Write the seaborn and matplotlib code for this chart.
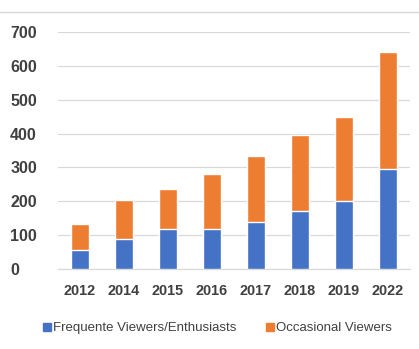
import matplotlib
matplotlib.use("Agg")
import matplotlib.pyplot as plt
from matplotlib.lines import Line2D
import seaborn as sns
import pandas as pd

years = ["2012", "2014", "2015", "2016", "2017", "2018", "2019", "2022"]
frequent = [55, 88, 118, 118, 140, 170, 200, 295]
occasional = [78, 117, 117, 162, 195, 225, 250, 347]
series_names = ["Frequente Viewers/Enthusiasts", "Occasional Viewers"]
y_ticks = [0, 100, 200, 300, 400, 500, 600, 700]

BLUE = "#4472C4"
ORANGE = "#ED7D31"
TEXT = "#404040"
GRID = "#D9D9D9"

sns.set_theme(style="white")
plt.rcParams["font.family"] = ["Liberation Sans", "DejaVu Sans"]

df = pd.DataFrame({"year": years, "frequent": frequent, "occasional": occasional})
df["total"] = df["frequent"] + df["occasional"]

fig = plt.figure(figsize=(4.19, 3.49), dpi=100)
ax = fig.add_axes([58 / 419, 80 / 349, 352 / 419, 237 / 349])

# stacked columns: total height in orange, frequent viewers drawn over it in blue
sns.barplot(data=df, x="year", y="total", color=ORANGE, width=0.41,
            saturation=1, ax=ax, zorder=3)
sns.barplot(data=df, x="year", y="frequent", color=BLUE, width=0.41,
            saturation=1, ax=ax, zorder=4)

ax.set_ylim(0, 700)
ax.set_yticks(y_ticks)
ax.set_yticklabels([str(t) for t in y_ticks])
ax.grid(axis="y", color=GRID, linewidth=0.9, zorder=0)
ax.set_axisbelow(True)
for s in ["top", "right", "left"]:
    ax.spines[s].set_visible(False)
ax.spines["bottom"].set_color(GRID)
ax.spines["bottom"].set_linewidth(0.9)
ax.set_xlabel("")
ax.set_ylabel("")
ax.tick_params(axis="both", length=0)
ax.tick_params(axis="x", pad=11, labelsize=10.4, labelcolor=TEXT)
ax.tick_params(axis="y", pad=34.5, labelsize=11.5, labelcolor=TEXT)
for lbl in ax.get_yticklabels():
    lbl.set_horizontalalignment("left")
    lbl.set_fontweight("bold")
for lbl in ax.get_xticklabels():
    lbl.set_fontweight("bold")

handles = [Line2D([], [], marker="s", linestyle="none", markersize=5.5,
                  markerfacecolor=c, markeredgecolor=c) for c in (BLUE, ORANGE)]
fig.legend(handles, series_names, loc="center", bbox_to_anchor=(0.517, 21 / 349),
           ncol=2, frameon=False, fontsize=9.5, labelcolor=TEXT,
           handletextpad=0.05, columnspacing=2.15, handlelength=0.8)

# thin rule along the top edge of the chart area
fig.add_artist(Line2D([0, 1], [1 - 12 / 349, 1 - 12 / 349], color=GRID,
                      linewidth=1.0, transform=fig.transFigure))

fig.savefig("out.png", dpi=100, facecolor="white")
